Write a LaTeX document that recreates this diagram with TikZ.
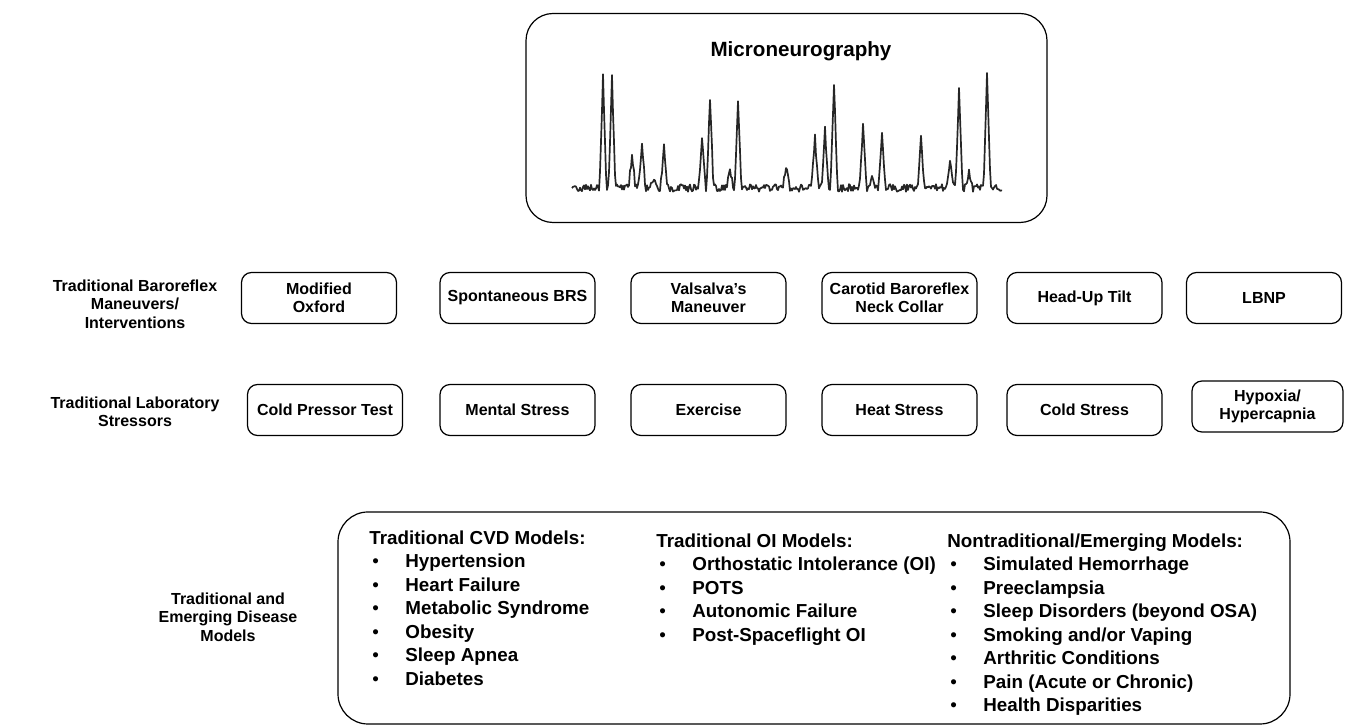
\documentclass[tikz,border=0pt]{standalone}
\usepackage{fontspec}
\setmainfont{Liberation Sans}
\newcommand{\modelitem}[1]{\\\hspace*{1.5pt}\makebox[16.5pt][l]{\mdseries\textbullet}#1}
\begin{document}
\begin{tikzpicture}[x=0.5pt,y=-0.5pt,
    testbox/.style={draw, line width=0.6pt, rounded corners=5pt, align=center,
      minimum width=77.5pt, minimum height=25.5pt, inner sep=1pt,
      font=\fontsize{8}{9.2}\selectfont\bfseries},
    rowlabel/.style={align=center, inner sep=0pt, font=\fontsize{8}{9.2}\selectfont\bfseries},
    bigbox/.style={draw, line width=0.6pt},
    modellist/.style={anchor=north west, align=left, inner sep=0pt,
      font=\fontsize{9.4}{11.75}\selectfont\bfseries},
    trace/.style={line width=0.85pt, black!85, line join=round},
    declare function={spk(\t,\c,\h)=\h*max(0,1-abs(\t-\c)/3.5);}]
\useasboundingbox (0,0) rectangle (1345,726);

% microneurography panel
\node[bigbox, rounded corners=13.5pt, minimum width=260.5pt, minimum height=104.5pt] (neuro) at (786.5,118) {};
\node[font=\fontsize{10.3}{12}\selectfont\bfseries] (neurotitle) at (801,51) {Microneurography};
\pgfmathsetseed{11}
\draw[trace] plot[samples=431, domain=572:1002] (\x,{188+3.8*rand
  -spk(\x,603,111)-spk(\x,612,110)-spk(\x,632,33)-spk(\x,642,45)-spk(\x,654,11)
  -spk(\x,664,41)-spk(\x,702,51)-spk(\x,710,89)-spk(\x,730,18)-spk(\x,738,85)
  -spk(\x,786,22)-spk(\x,815,50)-spk(\x,825,58)-spk(\x,834,106)-spk(\x,863,61)
  -spk(\x,872,15)-spk(\x,882,57)-spk(\x,921,49)-spk(\x,950,28)-spk(\x,959,101)
  -spk(\x,969,15)-spk(\x,987,112)});

% row labels
\node[rowlabel] (lblbaro) at (135,304) {Traditional Baroreflex\\Maneuvers/\\Interventions};
\node[rowlabel] (lbllab) at (135,412) {Traditional Laboratory\\Stressors};
\node[rowlabel] (lbldis) at (228,617) {Traditional and\\Emerging Disease\\Models};

% baroreflex maneuvers
\node[testbox] (oxford) at (319,298) {Modified\\Oxford};
\node[testbox] (brs) at (517.5,298) {Spontaneous BRS};
\node[testbox] (valsalva) at (708.5,298) {Valsalva's\\Maneuver};
\node[testbox] (collar) at (899.5,298) {Carotid Baroreflex\\Neck Collar};
\node[testbox] (tilt) at (1084.5,298) {Head-Up Tilt};
\node[testbox] (lbnp) at (1264,298) {LBNP};

% laboratory stressors
\node[testbox] (cpt) at (325,410) {Cold Pressor Test};
\node[testbox] (mental) at (517.5,410) {Mental Stress};
\node[testbox] (exercise) at (708.5,410) {Exercise};
\node[testbox] (heat) at (899.5,410) {Heat Stress};
\node[testbox] (cold) at (1084.5,410) {Cold Stress};
\node[testbox, minimum width=75.5pt] (hypoxia) at (1267.5,406.5) {Hypoxia/\\Hypercapnia};

% disease models
\node[bigbox, rounded corners=15pt, minimum width=476pt, minimum height=106pt] (models) at (814,618) {};
\node[modellist] (cvd) at (369,530) {Traditional CVD Models:\modelitem{Hypertension}%
  \modelitem{Heart Failure}\modelitem{Metabolic Syndrome}\modelitem{Obesity}%
  \modelitem{Sleep Apnea}\modelitem{Diabetes}};
\node[modellist] (oi) at (656,533) {Traditional OI Models:\modelitem{Orthostatic Intolerance (OI)}%
  \modelitem{POTS}\modelitem{Autonomic Failure}\modelitem{Post-Spaceflight OI}};
\node[modellist] (emerging) at (947,533) {Nontraditional/Emerging Models:\modelitem{Simulated Hemorrhage}%
  \modelitem{Preeclampsia}\modelitem{Sleep Disorders (beyond OSA)}\modelitem{Smoking and/or Vaping}%
  \modelitem{Arthritic Conditions}\modelitem{Pain (Acute or Chronic)}\modelitem{Health Disparities}};
\end{tikzpicture}
\end{document}
